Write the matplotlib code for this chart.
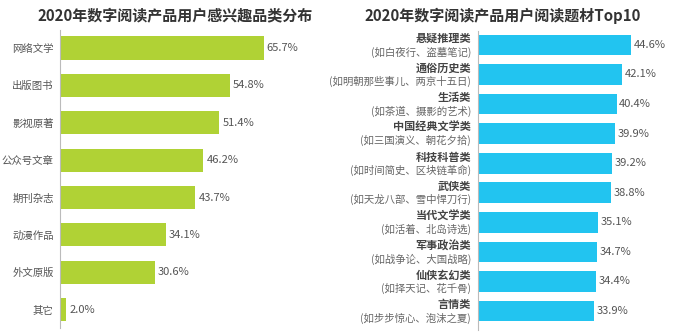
import matplotlib
matplotlib.use("Agg")
import matplotlib.pyplot as plt
from matplotlib.transforms import blended_transform_factory

plt.rcParams['font.family'] = ['Noto Sans CJK SC', 'DejaVu Sans']

left_title = "2020年数字阅读产品用户感兴趣品类分布"
left_cats = ["网络文学", "出版图书", "影视原著", "公众号文章", "期刊杂志", "动漫作品", "外文原版", "其它"]
left_vals = [65.7, 54.8, 51.4, 46.2, 43.7, 34.1, 30.6, 2.0]

right_title = "2020年数字阅读产品用户阅读题材Top10"
right_cats = ["悬疑推理类", "通俗历史类", "生活类", "中国经典文学类", "科技科普类",
              "武侠类", "当代文学类", "军事政治类", "仙侠玄幻类", "言情类"]
right_subs = ["(如白夜行、盗墓笔记)", "(如明朝那些事儿、两京十五日)", "(如茶道、摄影的艺术)",
              "(如三国演义、朝花夕拾)", "(如时间简史、区块链革命)", "(如天龙八部、雪中悍刀行)",
              "(如活着、北岛诗选)", "(如战争论、大国战略)", "(如择天记、花千骨)", "(如步步惊心、泡沫之夏)"]
right_vals = [44.6, 42.1, 40.4, 39.9, 39.2, 38.8, 35.1, 34.7, 34.4, 33.9]

W, H = 688, 332
fig = plt.figure(figsize=(W / 100, H / 100), dpi=100)

def px_axes(x0, y_top, x1, y_bot):
    return fig.add_axes([x0 / W, 1 - y_bot / H, (x1 - x0) / W, (y_bot - y_top) / H])

GREEN = "#b0d235"
BLUE = "#22c4f0"
TXT = "#555555"

# Left panel
axl = px_axes(60, 30, 60 + 3.1 * 100, 328)
n = len(left_cats)
axl.barh(range(n), left_vals, height=0.62, color=GREEN)
axl.set_ylim(7.49, -0.48)
axl.set_xlim(0, 100)
for s in ["top", "right", "bottom"]:
    axl.spines[s].set_visible(False)
axl.spines["left"].set_color("#bbbbbb")
axl.set_xticks([])
axl.set_yticks(range(n))
axl.set_yticklabels(left_cats, fontsize=7.5, color=TXT)
axl.tick_params(axis="y", length=0, pad=4.5)
for i, v in enumerate(left_vals):
    axl.text(v + 1.0, i, f"{v:.1f}%", va="center", ha="left", fontsize=8, color=TXT)
fig.text(175 / W, 1 - 16 / H, left_title, ha="center", va="center",
         fontsize=10.8, fontweight="bold", color="#333333")

# Right panel
axr = px_axes(478, 31, 478 + 3.43 * 60, 330)
m = len(right_cats)
axr.barh(range(m), right_vals, height=0.7, color=BLUE)
axr.set_ylim(9.64, -0.47)
axr.set_xlim(0, 60)
for s in ["top", "right", "bottom"]:
    axr.spines[s].set_visible(False)
axr.spines["left"].set_color("#bbbbbb")
axr.set_xticks([])
axr.set_yticks([])
tr = blended_transform_factory(fig.transFigure, axr.transData)
for i, (c, s, v) in enumerate(zip(right_cats, right_subs, right_vals)):
    fig.text(471 / W, i - 0.21, c, transform=tr, ha="right", va="center",
             fontsize=8, fontweight="bold", color="#444444")
    fig.text(471 / W, i + 0.24, s, transform=tr, ha="right", va="center",
             fontsize=7.5, color="#666666")
    axr.text(v + 0.7, i, f"{v:.1f}%", va="center", ha="left", fontsize=8, color=TXT)
fig.text(503 / W, 1 - 16 / H, right_title, ha="center", va="center",
         fontsize=10.8, fontweight="bold", color="#333333")

fig.savefig("out.png", dpi=100, facecolor="white")
